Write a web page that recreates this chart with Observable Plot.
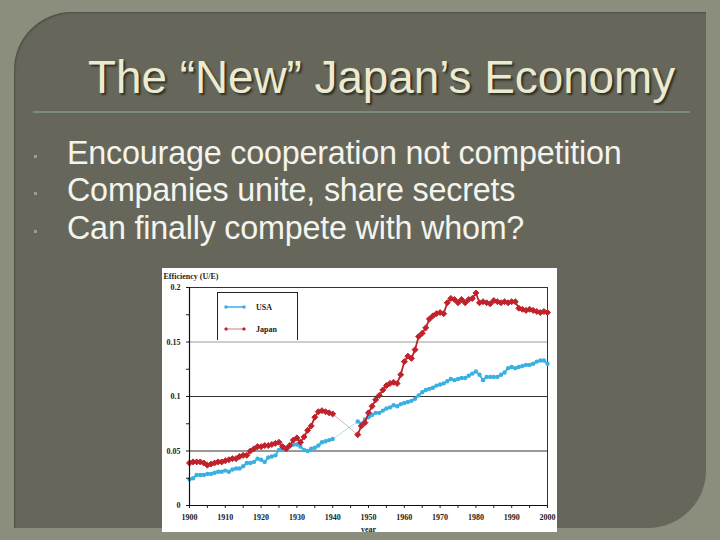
<!DOCTYPE html>
<html><head><meta charset="utf-8">
<script src="https://cdn.jsdelivr.net/npm/d3@7"></script>
<script src="https://cdn.jsdelivr.net/npm/@observablehq/plot@0.6"></script>
<style>
html,body{margin:0;padding:0}
body{width:720px;height:540px;position:relative;overflow:hidden;background:#8b8d7d;font-family:"Liberation Sans",Arial,sans-serif}
#panel{position:absolute;left:14px;top:12px;width:692px;height:516px;background:#66675a;border-radius:58px 0 58px 0;box-shadow:inset 1px 1px 2px rgba(0,0,0,0.25)}
#title{position:absolute;left:88px;top:52px;font-size:45.8px;color:#ecebd0;white-space:nowrap;text-shadow:2px 2px 2px #2e2f28}
#rule{position:absolute;left:33px;top:111px;width:657px;height:2px;background:#7a8b79}
.bl{position:absolute;left:67px;font-size:32.3px;color:#f4f4ee;white-space:nowrap;letter-spacing:-0.2px}
.dot{position:absolute;left:34px;width:3px;height:3px;background:#9a9c8c}
#chart{position:absolute;left:162px;top:268px;width:395px;height:264px;background:#fff;overflow:hidden}
#legend{position:absolute;left:55px;top:24px;width:79px;height:47px;border:1px solid #222;border-bottom:none;background:#fff;font-family:"Liberation Serif",serif;font-weight:bold;font-size:8px;color:#222}
</style></head>
<body>
<div id="panel"></div>
<div id="title">The “New” Japan’s Economy</div>
<div id="rule"></div>
<div class="dot" style="top:155px"></div>
<div class="dot" style="top:192px"></div>
<div class="dot" style="top:230px"></div>
<div class="bl" style="top:135px">Encourage cooperation not competition</div>
<div class="bl" style="top:172px">Companies unite, share secrets</div>
<div class="bl" style="top:210px">Can finally compete with whom?</div>
<div id="chart"></div>
<script>
const seriesNames = ["USA", "Japan"];
const seriesColors = ["#3ab0e2", "#c0222c"];
const yearsPre = d3.range(1900, 1941);
const yearsPost = d3.range(1947, 2001);
const usaPre = [0.024,0.025,0.028,0.028,0.028,0.029,0.029,0.030,0.031,0.031,
  0.032,0.031,0.033,0.034,0.034,0.036,0.039,0.039,0.040,0.043,
  0.042,0.040,0.044,0.045,0.046,0.051,0.052,0.053,0.055,0.056,
  0.056,0.054,0.051,0.050,0.052,0.053,0.055,0.058,0.059,0.060,
  0.061];
const japanPre = [0.039,0.040,0.040,0.040,0.039,0.037,0.038,0.039,0.040,0.040,
  0.041,0.042,0.043,0.043,0.045,0.046,0.046,0.050,0.052,0.054,
  0.054,0.055,0.055,0.056,0.057,0.058,0.054,0.052,0.055,0.060,
  0.062,0.058,0.063,0.069,0.073,0.081,0.086,0.087,0.086,0.085,
  0.084];
const usaPost = [0.077,0.075,0.079,0.081,0.083,0.085,0.085,0.087,0.089,0.090,
  0.092,0.091,0.093,0.094,0.095,0.096,0.098,0.101,0.104,0.106,
  0.107,0.108,0.110,0.111,0.112,0.114,0.116,0.115,0.116,0.117,
  0.117,0.119,0.121,0.123,0.120,0.115,0.118,0.118,0.118,0.118,
  0.120,0.122,0.126,0.127,0.126,0.127,0.128,0.129,0.129,0.130,
  0.132,0.133,0.133,0.130];
const japanPost = [0.065,0.073,0.076,0.085,0.091,0.097,0.101,0.106,0.110,0.112,
  0.113,0.112,0.120,0.132,0.137,0.135,0.143,0.155,0.158,0.163,
  0.171,0.174,0.176,0.177,0.176,0.186,0.190,0.189,0.186,0.189,
  0.186,0.189,0.190,0.195,0.186,0.187,0.186,0.185,0.188,0.187,
  0.186,0.187,0.186,0.187,0.187,0.181,0.180,0.179,0.180,0.179,
  0.178,0.177,0.178,0.177];
const yTicks = [0, 0.05, 0.1, 0.15, 0.2];
const yTickLabels = ["0", "0.05", "0.1", "0.15", "0.2"];
const yMinorTicks = [0.025, 0.075, 0.125, 0.175];
const xTicks = d3.range(1900, 2001, 10);
const xMinorTicks = d3.range(1905, 2000, 10);
const yLabel = "Efficiency (U/E)";
const xLabel = "year";

function rows(years, vals, s, part) { return years.map((y, i) => ({year: y, value: vals[i], series: s, part})); }
const usa = [...rows(yearsPre, usaPre, "USA", "pre"), ...rows(yearsPost, usaPost, "USA", "post")];
const japan = [...rows(yearsPre, japanPre, "Japan", "pre"), ...rows(yearsPost, japanPost, "Japan", "post")];
const gapUSA = [usa[yearsPre.length - 1], usa[yearsPre.length]];
const gapJapan = [japan[yearsPre.length - 1], japan[yearsPre.length]];

const plot = Plot.plot({
  width: 395, height: 264,
  marginLeft: 27, marginRight: 10, marginTop: 19, marginBottom: 27,
  style: {fontFamily: "Liberation Serif, serif", fontWeight: "bold", fontSize: "8px", color: "#222", background: "transparent"},
  x: {domain: [1900, 2000]},
  y: {domain: [0, 0.2]},
  marks: [
    Plot.ruleY([0.15], {stroke: "#9a9a9a", strokeWidth: 1}),
    Plot.ruleY([0.05, 0.1], {stroke: "#333", strokeWidth: 1}),
    Plot.ruleY([0.2], {stroke: "#333", strokeWidth: 1}),
    Plot.ruleX([2000], {stroke: "#333", strokeWidth: 1}),
    Plot.line(gapUSA, {x: "year", y: "value", stroke: seriesColors[0], strokeWidth: 0.6, strokeOpacity: 0.8, strokeDasharray: "1.5 1"}),
    Plot.line(gapJapan, {x: "year", y: "value", stroke: "#a05050", strokeWidth: 0.6, strokeOpacity: 0.8, strokeDasharray: "1.5 1"}),
    Plot.line(usa, {x: "year", y: "value", z: "part", stroke: seriesColors[0], strokeWidth: 1.8}),
    Plot.dot(usa, {x: "year", y: "value", fill: seriesColors[0], r: 2.2, symbol: "circle"}),
    Plot.line(japan, {x: "year", y: "value", z: "part", stroke: seriesColors[1], strokeWidth: 1.8}),
    Plot.dot(japan, {x: "year", y: "value", fill: seriesColors[1], r: 2.7, symbol: "diamond2", stroke: seriesColors[1], strokeWidth: 1}),
    Plot.axisY(yMinorTicks, {tickSize: 3, tickFormat: () => "", label: null, stroke: "#222"}),
    Plot.axisY(yTicks, {tickSize: 3, tickFormat: (d) => yTickLabels[yTicks.indexOf(d)], tickPadding: 6, label: null, stroke: "#222", fill: "#222"}),
    Plot.axisX(xMinorTicks, {tickSize: 3, tickFormat: () => "", label: null, stroke: "#222"}),
    Plot.axisX(xTicks, {tickSize: 3, tickFormat: (d) => String(d), tickPadding: 6, label: null, stroke: "#222", fill: "#222"}),
    Plot.ruleY([0], {stroke: "#111", strokeWidth: 1.2}),
    Plot.ruleX([1900], {stroke: "#111", strokeWidth: 1.2}),
    Plot.text([xLabel], {frameAnchor: "bottom", dy: 26, text: (d) => d, fill: "#222"}),
    Plot.text([yLabel], {frameAnchor: "top-left", dx: -26, dy: -14, textAnchor: "start", text: (d) => d, fill: "#222"})
  ]
});
const chart = document.getElementById("chart");
chart.appendChild(plot);

const legend = document.createElement("div");
legend.id = "legend";
seriesNames.forEach((name, i) => {
  const row = document.createElement("div");
  row.style.cssText = `position:absolute;left:6px;top:${i === 0 ? 9 : 31}px;height:10px;display:flex;align-items:center;white-space:nowrap`;
  const sym = i === 0
    ? `<circle cx="2" cy="5" r="1.8" fill="${seriesColors[i]}"/><circle cx="20" cy="5" r="1.8" fill="${seriesColors[i]}"/>`
    : `<rect x="0.5" y="3.5" width="3" height="3" fill="${seriesColors[i]}" transform="rotate(45 2 5)"/><rect x="18.5" y="3.5" width="3" height="3" fill="${seriesColors[i]}" transform="rotate(45 20 5)"/>`;
  row.innerHTML = `<svg width="22" height="10"><line x1="2" y1="5" x2="20" y2="5" stroke="${i === 0 ? seriesColors[i] : '#b06060'}" stroke-width="${i === 0 ? 1.5 : 0.8}"/>${sym}</svg><span style="margin-left:10px">${name}</span>`;
  legend.appendChild(row);
});
chart.appendChild(legend);
</script>
</body></html>
